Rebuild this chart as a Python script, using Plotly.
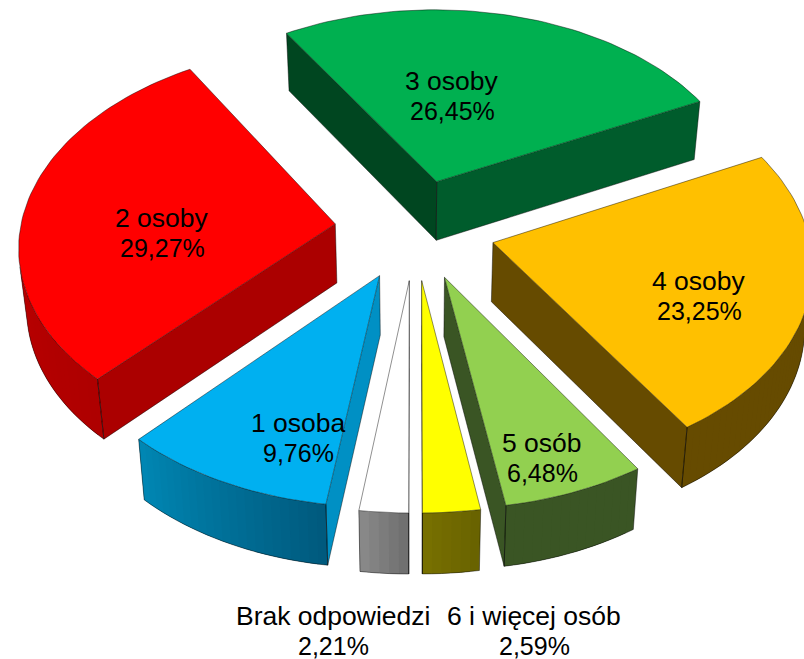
import math
import plotly.graph_objects as go

# Chart data, clockwise from the bottom of the pie
CATEGORIES = ["Brak odpowiedzi", "1 osoba", "2 osoby", "3 osoby", "4 osoby", "5 osób", "6 i więcej osób"]
VALUES = [2.21, 9.76, 29.27, 26.45, 23.25, 6.48, 2.59]
TOP_COLORS = ["#ffffff", "#00b0f0", "#ff0000", "#00b050", "#ffc000", "#92d050", "#ffff00"]
CUT_COLORS = ["#8a8a8a", "#0090c4", "#ab0000", None, "#664b00", "#3a5524", "#6a6400"]
WALL_START = ["#707070", "#005a7e", "#ae0000", "#005c2c", "#664b00", "#3a5524", "#696300"]
WALL_END = ["#8e8e8e", "#0088b5", "#cc0000", "#005c2c", "#664b00", "#3a5524", "#7a7200"]
GREEN_CUT_START, GREEN_CUT_END = "#004620", "#005c2c"

# Label centres in page pixels (layout, not data)
LABEL_POS = [(333, 631), (298, 438), (162, 233), (452, 96), (699, 296), (542, 458), (534, 631)]

# Projection of the tilted, exploded pie
W, H = 804, 659
CX, CY, F, G, K = 415, 229, 315, 198, 0.10
EXPLODE, DEPTH, DEPTH_GROW, BOTTOM_SCALE = 0.255, 59, 0.007, 0.98
START_DEG = 180.0
EDGE = "rgba(0,0,0,0.55)"


def project(X, Z):
    s = 1 / (1 + K * Z)
    return CX + F * X * s, CY - G * Z * s


def lower(p):
    return CX + (p[0] - CX) * BOTTOM_SCALE, p[1] + DEPTH + (p[1] - CY) * DEPTH_GROW


def mix(c0, c1, t):
    a = [int(c0[i:i + 2], 16) for i in (1, 3, 5)]
    b = [int(c1[i:i + 2], 16) for i in (1, 3, 5)]
    return "rgb(%d,%d,%d)" % tuple(round(a[i] + (b[i] - a[i]) * t) for i in range(3))


def facing(p1, p2):
    q = [p1, p2, lower(p2), lower(p1)]
    area = sum(q[i][0] * q[(i + 1) % 4][1] - q[(i + 1) % 4][0] * q[i][1] for i in range(4))
    return area < 0


def polygon(fig, pts, color, line=None, width=0.8):
    fig.add_trace(go.Scatter(
        x=[p[0] for p in pts] + [pts[0][0]], y=[p[1] for p in pts] + [pts[0][1]],
        mode="lines" if line else "none", fill="toself", fillcolor=color,
        line=dict(color=line, width=width) if line else None,
        hoverinfo="skip", showlegend=False))


def edge_lines(fig, segments):
    xs, ys = [], []
    for a, b in segments:
        xs += [a[0], b[0], None]
        ys += [a[1], b[1], None]
    if xs:
        fig.add_trace(go.Scatter(x=xs, y=ys, mode="lines", line=dict(color=EDGE, width=0.8),
                                 hoverinfo="skip", showlegend=False))


total = sum(VALUES)
slices = []
angle = START_DEG
for i, v in enumerate(VALUES):
    sweep = 360 * v / total
    slices.append((i, angle, angle + sweep))
    angle += sweep


def mid_cos(s):
    return math.cos(math.radians((s[1] + s[2]) / 2))


fig = go.Figure()
for i, a0, a1 in sorted(slices, key=mid_cos, reverse=True):
    mid = math.radians((a0 + a1) / 2)
    ox, oz = EXPLODE * math.sin(mid), EXPLODE * math.cos(mid)
    n = max(4, int((a1 - a0) / 1.5))
    rim = []
    for j in range(n + 1):
        t = math.radians(a0 + (a1 - a0) * j / n)
        rim.append(project(ox + math.sin(t), oz + math.cos(t)))
    apex = project(ox, oz)
    edges = []

    # straight cut faces
    for p1, p2, name in ((apex, rim[0], "start"), (rim[-1], apex, "end")):
        if facing(p1, p2):
            color = CUT_COLORS[i]
            if color is None:
                color = GREEN_CUT_START if name == "start" else GREEN_CUT_END
            polygon(fig, [p1, p2, lower(p2), lower(p1)], color)
            edges += [(lower(p1), lower(p2)), (p1, lower(p1)), (p2, lower(p2))]

    # outer curved wall, shaded strip by strip; each strip laps under the next
    vis = [j for j in range(n) if facing(rim[j], rim[j + 1])]
    for j in vis:
        p1, p2 = rim[j], rim[j + 1]
        p3 = rim[j + 2] if j + 1 in vis else p2
        polygon(fig, [p1, p2, p3, lower(p3), lower(p2), lower(p1)],
                mix(WALL_START[i], WALL_END[i], j / n))
        edges.append((lower(p1), lower(p2)))
        if j - 1 not in vis:
            edges.append((p1, lower(p1)))
        if j + 1 not in vis:
            edges.append((p2, lower(p2)))

    edge_lines(fig, edges)
    polygon(fig, [apex] + rim, TOP_COLORS[i], line=EDGE)

for name, v, (lx, ly) in zip(CATEGORIES, VALUES, LABEL_POS):
    pct = ("%.2f%%" % v).replace(".", ",")
    for txt, yy, size in ((name, ly - 15, 26.5), (pct, ly + 15, 25)):
        fig.add_annotation(x=lx, y=yy, text=txt, showarrow=False,
                           font=dict(family="Liberation Sans, Arial, sans-serif", size=size, color="#000000"),
                           xanchor="center", yanchor="middle")

fig.update_layout(
    width=W, height=H, autosize=False, margin=dict(l=0, r=0, t=0, b=0),
    paper_bgcolor="#ffffff", plot_bgcolor="#ffffff", showlegend=False,
    xaxis=dict(range=[0, W], visible=False, fixedrange=True),
    yaxis=dict(range=[H, 0], visible=False, fixedrange=True),
)
fig.write_html("out.html", post_script="document.body.style.margin='0';document.body.style.overflow='hidden';",
               config={"displayModeBar": False})
